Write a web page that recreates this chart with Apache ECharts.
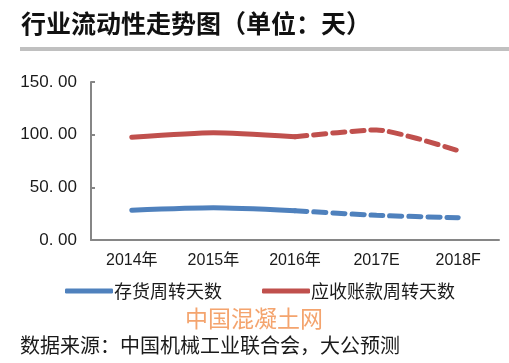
<!DOCTYPE html>
<html><head><meta charset="utf-8">
<script src="https://cdn.jsdelivr.net/npm/echarts@6/dist/echarts.min.js"></script>
<style>html,body{margin:0;padding:0;background:#fff}#c{width:509px;height:363px}</style>
</head><body><div id="c"></div>
<script>
var categories = ['2014年','2015年','2016年','2017E','2018F'];
var inventoryDays = [28.2, 30.5, 27.8, 23.4, 21.2];
var receivableDays = [97.5, 101.8, 98.0, 104.5, 84.8];
var yTicks = [0, 50, 100, 150];
var actualCount = 3; // first three are actuals, rest forecast
var nameInv = '存货周转天数', nameRec = '应收账款周转天数';
var titleText = '行业流动性走势图（单位：天）';
var sourceText = '数据来源：中国机械工业联合会，大公预测';
var watermark = '中国混凝土网';

function part(arr, solid){
  return arr.map(function(v,i){
    if (solid) return i < actualCount ? v : null;
    return i >= actualCount-1 ? v : null;
  });
}
var cjk = '"Noto Sans CJK SC", sans-serif';
var blue = '#4F81BD', red = '#C0504D';
function mk(name, data, color, dashed){
  return {name:name, type:'line', data:data, smooth:0.2, symbol:'none',
    connectNulls:false, silent:true,
    lineStyle:{width:5, color:color, type: dashed?[12,7]:'solid', cap:'round'},
    itemStyle:{color:color}};
}
var chart = echarts.init(document.getElementById('c'));
chart.setOption({
  animation:false,
  grid:{left:91, right:10, top:82, bottom:123},
  xAxis:{type:'category', data:categories, boundaryGap:true,
    axisLine:{lineStyle:{color:'#868686', width:2}},
    axisTick:{inside:true, length:5, lineStyle:{color:'#868686', width:2}},
    axisLabel:{color:'#1a1a1a', fontSize:16, fontFamily:'"Liberation Sans", '+cjk, margin:13}},
  yAxis:{type:'value', min:yTicks[0], max:yTicks[yTicks.length-1], interval:50,
    splitLine:{show:false},
    axisLine:{show:true, lineStyle:{color:'#868686', width:2}},
    axisTick:{show:true, inside:true, length:4, lineStyle:{color:'#868686', width:2}},
    axisLabel:{color:'#1a1a1a', fontSize:17, fontFamily:'"Liberation Sans", sans-serif', margin:14,
      formatter:function(v){return v.toFixed(2).replace('.', '. ');}}},
  legend:{data:[nameInv, nameRec], left:60, top:277, itemWidth:48, itemHeight:5, itemGap:40,
    icon:'roundRect', selectedMode:false,
    textStyle:{fontSize:18, color:'#1a1a1a', fontFamily:cjk, padding:[0,0,0,-4]}},
  series:[
    mk(nameInv, part(inventoryDays,true), blue, false),
    mk(nameInv, part(inventoryDays,false), blue, true),
    mk(nameRec, part(receivableDays,true), red, false),
    mk(nameRec, part(receivableDays,false), red, true)
  ],
  graphic:[
    {type:'text', left:21, top:11, style:{text:titleText, fontSize:25, fontWeight:'bold', fill:'#111', fontFamily:cjk}},
    {type:'rect', shape:{x:20, y:47, width:489, height:4}, style:{fill:'#c0c0c0'}},
    {type:'text', left:185, top:307, style:{text:watermark, fontSize:23, fill:'#F4A46E', fontFamily:cjk}},
    {type:'text', left:20, top:335, style:{text:sourceText, fontSize:20, fill:'#1a1a1a', fontFamily:cjk}}
  ]
});
</script></body></html>
